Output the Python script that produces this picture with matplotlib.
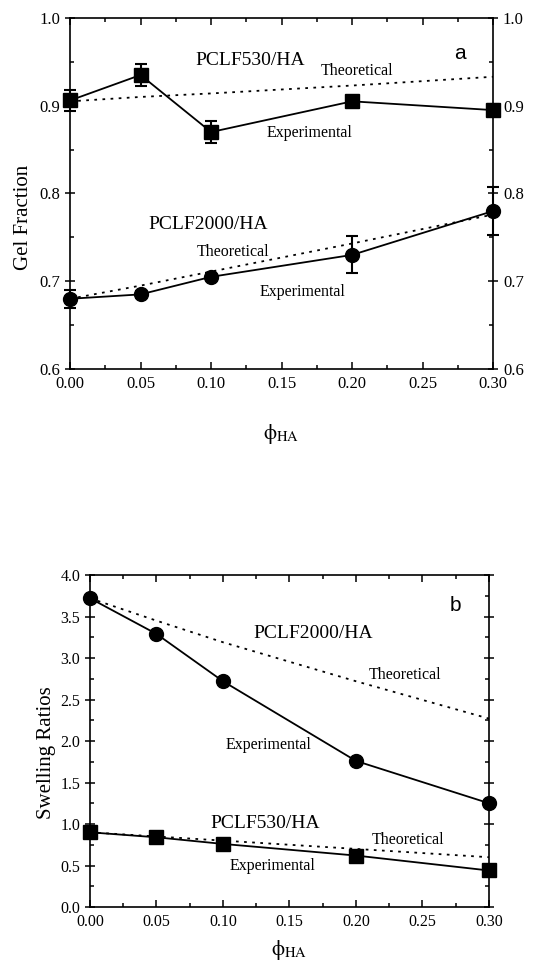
import matplotlib
matplotlib.use("Agg")
import matplotlib.pyplot as plt
from matplotlib.ticker import MultipleLocator

plt.rcParams['font.family'] = ['Liberation Serif', 'DejaVu Serif']
plt.rcParams['mathtext.fontset'] = 'stix'

phi = [0.00, 0.05, 0.10, 0.20, 0.30]

# Panel a: gel fraction
gel530_exp = [0.906, 0.935, 0.870, 0.905, 0.895]
gel530_err = [0.012, 0.012, 0.013, 0.004, 0.007]
gel530_theo = [0.905, 0.910, 0.914, 0.923, 0.933]
gel2000_exp = [0.680, 0.685, 0.705, 0.730, 0.780]
gel2000_err = [0.010, 0.004, 0.004, 0.021, 0.027]
gel2000_theo = [0.680, 0.695, 0.711, 0.743, 0.776]

# Panel b: swelling ratios
sw2000_exp = [3.72, 3.29, 2.72, 1.76, 1.25]
sw2000_theo = [3.72, 3.45, 3.19, 2.72, 2.27]
sw530_exp = [0.90, 0.84, 0.76, 0.62, 0.44]
sw530_theo = [0.90, 0.85, 0.80, 0.70, 0.60]

fig = plt.figure(figsize=(5.37, 9.71), dpi=100)

def style_axes(ax, right_labels, lsize):
    for s in ax.spines.values():
        s.set_linewidth(1.2)
    ax.xaxis.set_major_locator(MultipleLocator(0.05))
    ax.xaxis.set_minor_locator(MultipleLocator(0.025))
    ax.tick_params(which='both', top=True, right=True, direction='in', labelsize=lsize)
    ax.tick_params(which='major', length=5, width=1.1)
    ax.tick_params(which='minor', length=3, width=1.1)
    ax.tick_params(axis='y', which='major', direction='inout', length=7)
    ax.tick_params(axis='x', pad=5)
    ax.tick_params(labelright=right_labels)
    ax.xaxis.set_major_formatter(plt.FuncFormatter(lambda v, p: f"{v:.2f}"))
    ax.yaxis.set_major_formatter(plt.FuncFormatter(lambda v, p: f"{v:.1f}"))

dot = (0, (1.5, 3))
xlab = r'$\mathrm{\phi}_{\mathrm{HA}}$'

# ---- Panel a ----
ax1 = fig.add_axes([0.1304, 0.620, 0.788, 0.3615])
ax1.errorbar(phi, gel530_exp, yerr=gel530_err, color='black', marker='s', ms=9.5,
             lw=1.3, capsize=4, elinewidth=1.5, capthick=1.5, clip_on=False, zorder=3)
ax1.plot(phi, gel530_theo, color='black', ls=dot, lw=1.3)
ax1.errorbar(phi, gel2000_exp, yerr=gel2000_err, color='black', marker='o', ms=10,
             lw=1.3, capsize=4, elinewidth=1.5, capthick=1.5, clip_on=False, zorder=3)
ax1.plot(phi, gel2000_theo, color='black', ls=dot, lw=1.3)
ax1.set_xlim(0, 0.30)
ax1.set_ylim(0.6, 1.0)
ax1.yaxis.set_major_locator(MultipleLocator(0.1))
ax1.yaxis.set_minor_locator(MultipleLocator(0.05))
style_axes(ax1, True, 12)
ax1.set_ylabel('Gel Fraction', fontsize=15)
ax1.yaxis.set_label_coords(-0.088, 0.433)
ax1.set_xlabel(xlab, fontsize=15, labelpad=22)
ax1.text(0.128, 0.952, 'PCLF530/HA', fontsize=14, ha='center', va='center')
ax1.text(0.2035, 0.940, 'Theoretical', fontsize=11.5, ha='center', va='center')
ax1.text(0.170, 0.869, 'Experimental', fontsize=11.5, ha='center', va='center')
ax1.text(0.098, 0.765, 'PCLF2000/HA', fontsize=14, ha='center', va='center')
ax1.text(0.1156, 0.733, 'Theoretical', fontsize=11.5, ha='center', va='center')
ax1.text(0.165, 0.688, 'Experimental', fontsize=11.5, ha='center', va='center')
ax1.text(0.2766, 0.960, 'a', fontsize=15, ha='center', va='center', family='Liberation Sans')

# ---- Panel b ----
ax2 = fig.add_axes([0.1676, 0.0659, 0.743, 0.3419])
ax2.plot(phi, sw2000_exp, color='black', marker='o', ms=10, lw=1.3, clip_on=False, zorder=3)
ax2.plot(phi, sw2000_theo, color='black', ls=dot, lw=1.3)
ax2.plot(phi, sw530_exp, color='black', marker='s', ms=9.5, lw=1.3, clip_on=False, zorder=3)
ax2.plot(phi, sw530_theo, color='black', ls=dot, lw=1.3)
ax2.set_xlim(0, 0.30)
ax2.set_ylim(0, 4.0)
ax2.yaxis.set_major_locator(MultipleLocator(0.5))
ax2.yaxis.set_minor_locator(MultipleLocator(0.25))
style_axes(ax2, False, 11.5)
ax2.set_ylabel('Swelling Ratios', fontsize=15)
ax2.yaxis.set_label_coords(-0.086, 0.464)
ax2.set_xlabel(xlab, fontsize=15, labelpad=6)
ax2.text(0.1677, 3.30, 'PCLF2000/HA', fontsize=14, ha='center', va='center')
ax2.text(0.237, 2.795, 'Theoretical', fontsize=11.5, ha='center', va='center')
ax2.text(0.134, 1.95, 'Experimental', fontsize=11.5, ha='center', va='center')
ax2.text(0.1316, 1.01, 'PCLF530/HA', fontsize=14, ha='center', va='center')
ax2.text(0.239, 0.807, 'Theoretical', fontsize=11.5, ha='center', va='center')
ax2.text(0.1376, 0.494, 'Experimental', fontsize=11.5, ha='center', va='center')
ax2.text(0.275, 3.63, 'b', fontsize=15, ha='center', va='center', family='Liberation Sans')

fig.savefig('out.png', dpi=100)
